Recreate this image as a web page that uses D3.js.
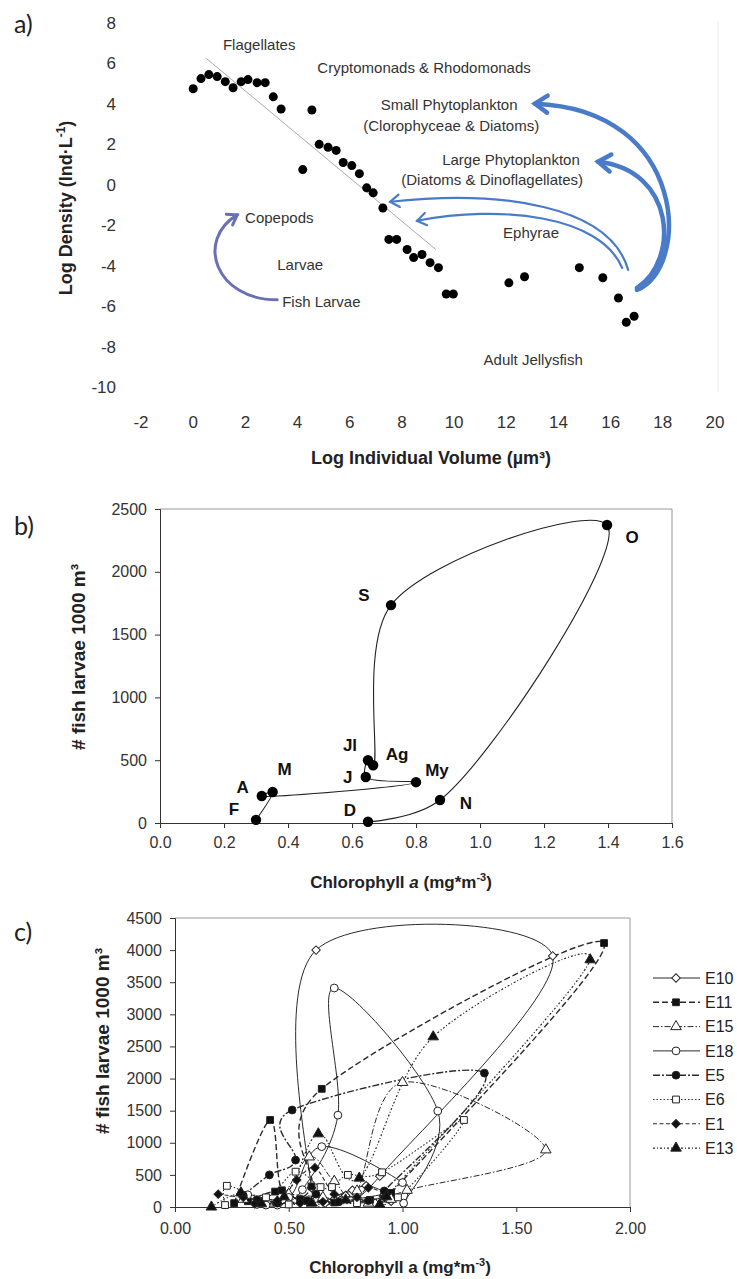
<!DOCTYPE html>
<html><head><meta charset="utf-8">
<script src="https://cdn.jsdelivr.net/npm/d3@7"></script>
<style>body{margin:0;background:#fff}svg{display:block}text{font-family:"Liberation Sans",Arial,sans-serif}</style>
</head><body><svg id="fig" width="737" height="1279"></svg>
<script>
// ================= DATA =================
// Panel a: size spectrum
const logVolume = [0.0,0.3,0.6,0.92,1.23,1.53,1.84,2.1,2.45,2.76,3.07,3.37,4.55,4.2,4.83,5.17,5.48,5.75,6.08,6.37,6.65,6.9,7.27,7.5,7.8,8.2,8.45,8.77,9.08,9.4,9.7,9.97,12.1,12.7,14.8,15.7,16.3,16.6,16.9];
const logDensity = [4.75,5.25,5.45,5.35,5.1,4.8,5.1,5.2,5.05,5.05,4.35,3.75,3.7,0.75,2.0,1.85,1.7,1.1,0.95,0.55,-0.15,-0.4,-1.15,-2.7,-2.7,-3.2,-3.6,-3.45,-3.85,-4.1,-5.4,-5.4,-4.85,-4.55,-4.1,-4.6,-5.6,-6.8,-6.5];
const xTicksA = [-2,0,2,4,6,8,10,12,14,16,18,20];
const yTicksA = [-10,-8,-6,-4,-2,0,2,4,6,8];
const trendVolume = [0.5, 9.3];
const trendDensity = [6.25, -3.2];
const groupLabels = ["Flagellates","Cryptomonads & Rhodomonads","Small Phytoplankton","(Clorophyceae & Diatoms)","Large Phytoplankton","(Diatoms & Dinoflagellates)","Ephyrae","Adult Jellysfish","Copepods","Larvae","Fish Larvae"];
const groupLabelVol = [2.53,8.85,9.81,9.89,12.18,11.46,12.95,13.03,1.99,4.10,3.41];
const groupLabelDen = [6.93,5.79,3.96,2.92,1.24,0.25,-2.38,-8.66,-1.63,-3.96,-5.79];

// Panel b: monthly cycle
const monthsB = ["F","M","A","My","J","Jl","Ag","S","O","N","D"];
const chlB = [0.30,0.352,0.318,0.80,0.643,0.65,0.666,0.722,1.397,0.875,0.65];
const larvaeB = [25,247,215,325,366,500,460,1735,2373,183,10];
const xTicksB = [0,0.2,0.4,0.6,0.8,1.0,1.2,1.4,1.6];
const yTicksB = [0,500,1000,1500,2000,2500];

// Panel c: stations
const stationsC = ["E10","E11","E15","E18","E5","E6","E1","E13"];
const chlE10 = [0.88,0.75,0.60,0.62,1.66,0.90,0.78,0.70,0.95,0.84,0.66,0.92];
const larE10 = [60,180,300,4000,3910,480,260,120,90,330,60,200];
const chlE11 = [0.26,0.418,0.47,0.60,0.645,1.886,0.95,0.857,0.70,0.55,0.44,0.32];
const larE11 = [60,1355,260,320,1840,4110,220,110,70,120,240,90];
const chlE15 = [0.30,0.45,0.59,0.70,0.80,1.0,1.63,1.02,0.95,0.85,0.65,0.50];
const larE15 = [120,80,780,400,250,1940,890,260,120,60,150,200];
const chlE18 = [0.40,0.45,0.56,0.716,0.70,1.155,1.005,1.0,0.645,0.50,0.32,0.36];
const larE18 = [30,30,270,1430,3410,1495,60,380,940,150,190,40];
const chlE5 = [0.30,0.415,0.53,0.515,1.36,0.92,0.85,0.72,0.62,0.58,0.45,0.36];
const larE5 = [180,500,730,1510,2085,250,100,80,200,100,60,110];
const chlE6 = [0.22,0.228,0.40,0.53,0.64,0.69,0.76,0.91,1.27,0.98,0.80,0.50];
const larE6 = [30,330,150,550,310,310,500,540,1355,150,60,40];
const chlE1 = [0.19,0.30,0.45,0.535,0.615,0.70,0.80,0.85,0.92,0.65,0.55,0.35];
const larE1 = [200,150,100,420,610,200,150,300,150,80,60,50];
const chlE13 = [0.16,0.29,0.48,0.63,0.81,1.135,1.825,0.93,0.90,0.75,0.60,0.38];
const larE13 = [0,220,160,1140,450,2650,3850,160,40,110,60,50];
const xTicksC = [0,0.5,1.0,1.5,2.0];
const yTicksC = [0,500,1000,1500,2000,2500,3000,3500,4000,4500];

// ================= SETUP =================
const svg = d3.select("#fig");
const INK = "#222";

function panelLabel(txt, x, y){
  svg.append("text").attr("x",x).attr("y",y).text(txt)
    .style("font-family","Lato, 'Open Sans', sans-serif").style("font-size","25px").attr("fill","#222");
}

// ================= PANEL A =================
const xA = d3.scaleLinear().domain([-2,20]).range([141,715]);
const yA = d3.scaleLinear().domain([-10,8]).range([387,23]);
const gA = svg.append("g");
panelLabel("a)", 14, 33);

gA.append("line").attr("x1",718).attr("x2",718).attr("y1",22).attr("y2",392).attr("stroke","#ececec");

gA.selectAll(".xt").data(xTicksA).enter().append("text")
  .attr("x",d=>xA(d)).attr("y",422).attr("dy","0.35em").attr("text-anchor","middle")
  .style("font-size","17px").attr("fill","#333").text(d=>d);
gA.selectAll(".yt").data(yTicksA).enter().append("text")
  .attr("x",116).attr("y",d=>yA(d)).attr("dy","0.35em").attr("text-anchor","end")
  .style("font-size","17px").attr("fill","#333").text(d=>d);

const xtA = gA.append("text").attr("x",431).attr("y",464).attr("text-anchor","middle")
  .style("font-size","18px").style("font-weight","bold").attr("fill",INK);
xtA.text("Log Individual Volume (µm³)");
const ytA = gA.append("text").attr("transform","translate(72,208) rotate(-90)").attr("text-anchor","middle")
  .style("font-size","18px").style("font-weight","bold").attr("fill",INK);
ytA.append("tspan").text("Log Density (Ind·L");
ytA.append("tspan").attr("dy","-7").style("font-size","12px").text("-1");
ytA.append("tspan").attr("dy","7").text(")");

gA.append("line").attr("x1",xA(trendVolume[0])).attr("y1",yA(trendDensity[0]))
  .attr("x2",xA(trendVolume[1])).attr("y2",yA(trendDensity[1]))
  .attr("stroke","#aaa").attr("stroke-width",1);

const blue = "#4a7bc8";
const arrows = [
  {p:[[17.01,-5.20],[19.04,-4.21],[19.04,3.71],[13.10,4.01]], w:4.5, c:blue, h:15},
  {p:[[17.01,-5.10],[18.66,-3.71],[18.47,0.74],[15.52,1.14]], w:4.5, c:blue, h:15},
  {p:[[16.67,-4.21],[15.98,-0.99],[11.76,-0.25],[7.55,-0.84]], w:2.2, c:blue, h:11},
  {p:[[16.44,-4.11],[15.59,-1.49],[11.76,-0.99],[8.58,-1.78]], w:2.2, c:blue, h:11},
  {p:[[3.22,-5.69],[0.84,-5.69],[0.08,-2.72],[1.69,-1.49]], w:3, c:"#6a70b4", h:11}
];
arrows.forEach(a=>{
  const P = a.p.map(d=>[xA(d[0]),yA(d[1])]);
  const path = d3.path();
  path.moveTo(P[0][0],P[0][1]);
  path.bezierCurveTo(P[1][0],P[1][1],P[2][0],P[2][1],P[3][0],P[3][1]);
  gA.append("path").attr("d",path.toString()).attr("fill","none").attr("stroke",a.c)
    .attr("stroke-width",a.w).attr("stroke-linecap","round");
  const ang = Math.atan2(P[3][1]-P[2][1], P[3][0]-P[2][0]);
  const t = P[3];
  const s = 0.6;
  const p1 = [t[0]-a.h*Math.cos(ang-s), t[1]-a.h*Math.sin(ang-s)];
  const p2 = [t[0]-a.h*Math.cos(ang+s), t[1]-a.h*Math.sin(ang+s)];
  gA.append("path").attr("d",`M${p1}L${t}L${p2}`).attr("fill","none").attr("stroke",a.c)
    .attr("stroke-width",a.w).attr("stroke-linejoin","miter").attr("stroke-linecap","round");
});

groupLabels.forEach((t,i)=>{
  const start = (t==="Copepods"||t==="Fish Larvae");
  gA.append("text").attr("x",xA(groupLabelVol[i])).attr("y",yA(groupLabelDen[i])).attr("dy","0.35em")
    .attr("text-anchor",start?"start":"middle").style("font-size","15px").attr("fill","#333").text(t);
});

gA.selectAll(".pa").data(logVolume).enter().append("circle")
  .attr("cx",d=>xA(d)).attr("cy",(d,i)=>yA(logDensity[i])).attr("r",4.5).attr("fill","#000");

// ================= PANEL B =================
const xB = d3.scaleLinear().domain([0,1.6]).range([160,672]);
const yB = d3.scaleLinear().domain([0,2500]).range([823,509]);
const gB = svg.append("g");
panelLabel("b)", 14, 535);

gB.append("path").attr("d",`M${xB(0)},${yB(2500)}H${xB(1.6)}V${yB(0)}`).attr("fill","none").attr("stroke","#999");
const axLB = gB.append("g").attr("transform",`translate(${xB(0)},0)`)
  .call(d3.axisLeft(yB).tickValues(yTicksB).tickSize(5).tickPadding(8).tickFormat(d3.format("d")));
const axBB = gB.append("g").attr("transform",`translate(0,${yB(0)})`)
  .call(d3.axisBottom(xB).tickValues(xTicksB).tickSize(5).tickPadding(9).tickFormat(d3.format(".1f")));
[axLB,axBB].forEach(ax=>{
  ax.selectAll("text").style("font-size","16px").style("font-family","'Liberation Sans',Arial,sans-serif").attr("fill","#333");
  ax.selectAll("line,path").attr("stroke","#333");
});

const ltB = gB.append("text").attr("x",401).attr("y",888).attr("text-anchor","middle")
  .style("font-size","17px").style("font-weight","bold").attr("fill",INK);
ltB.append("tspan").text("Chlorophyll ");
ltB.append("tspan").style("font-style","italic").text("a");
ltB.append("tspan").text(" (mg*m");
ltB.append("tspan").attr("dy","-7").style("font-size","11px").text("-3");
ltB.append("tspan").attr("dy","7").text(")");
gB.append("text").attr("transform","translate(85,657) rotate(-90)").attr("text-anchor","middle")
  .style("font-size","19px").style("font-weight","bold").attr("fill",INK).text("# fish larvae 1000 m³");

const lineB = d3.line().x(d=>xB(chlB[d])).y(d=>yB(larvaeB[d])).curve(d3.curveCatmullRom.alpha(0.5));
gB.append("path").attr("d",lineB(d3.range(monthsB.length))).attr("fill","none").attr("stroke","#222").attr("stroke-width",1.1);
gB.selectAll(".pb").data(monthsB).enter().append("circle")
  .attr("cx",(d,i)=>xB(chlB[i])).attr("cy",(d,i)=>yB(larvaeB[i])).attr("r",5.2).attr("fill","#000");
const labOffB = {F:[-22,-11],M:[12,-23],A:[-19,-9],My:[21,-12],J:[-18,0],Jl:[-18,-15],Ag:[24,-11],S:[-27,-10],O:[25,12],N:[26,3],D:[-18,-12]};
gB.selectAll(".lb").data(monthsB).enter().append("text")
  .attr("x",(d,i)=>xB(chlB[i])+labOffB[d][0]).attr("y",(d,i)=>yB(larvaeB[i])+labOffB[d][1]).attr("dy","0.35em")
  .attr("text-anchor","middle").style("font-size","17px").style("font-weight","bold").attr("fill","#111").text(d=>d);

// ================= PANEL C =================
const xC = d3.scaleLinear().domain([0,2]).range([175,630]);
const yC = d3.scaleLinear().domain([0,4500]).range([1207,918]);
const gC = svg.append("g");
panelLabel("c)", 14, 941);

gC.append("path").attr("d",`M${xC(0)},${yC(4500)}H${xC(2)}V${yC(0)}`).attr("fill","none").attr("stroke","#999");
const axLC = gC.append("g").attr("transform",`translate(${xC(0)},0)`)
  .call(d3.axisLeft(yC).tickValues(yTicksC).tickSize(5).tickPadding(8).tickFormat(d3.format("d")));
const axBC = gC.append("g").attr("transform",`translate(0,${yC(0)})`)
  .call(d3.axisBottom(xC).tickValues(xTicksC).tickSize(5).tickPadding(11).tickFormat(d3.format(".2f")));
[axLC,axBC].forEach(ax=>{
  ax.selectAll("text").style("font-size","16px").style("font-family","'Liberation Sans',Arial,sans-serif").attr("fill","#333");
  ax.selectAll("line,path").attr("stroke","#333");
});
const ltC = gC.append("text").attr("x",400).attr("y",1273).attr("text-anchor","middle")
  .style("font-size","17px").style("font-weight","bold").attr("fill",INK);
ltC.append("tspan").text("Chlorophyll a (mg*m");
ltC.append("tspan").attr("dy","-7").style("font-size","11px").text("-3");
ltC.append("tspan").attr("dy","7").text(")");
gC.append("text").attr("transform","translate(109,1041) rotate(-90)").attr("text-anchor","middle")
  .style("font-size","19px").style("font-weight","bold").attr("fill",INK).text("# fish larvae 1000 m³");

const dataC = {E10:[chlE10,larE10],E11:[chlE11,larE11],E15:[chlE15,larE15],E18:[chlE18,larE18],E5:[chlE5,larE5],E6:[chlE6,larE6],E1:[chlE1,larE1],E13:[chlE13,larE13]};
const styleC = {
  E10:{dash:null, m:"diamond", fill:false, w:1},
  E11:{dash:"6,3", m:"square", fill:true, w:1.4},
  E15:{dash:"6,2,1.5,2", m:"triangle", fill:false, w:1},
  E18:{dash:null, m:"circle", fill:false, w:1},
  E5:{dash:"7,2,2,2", m:"circle", fill:true, w:1.4},
  E6:{dash:"1.5,2", m:"square", fill:false, w:1.1},
  E1:{dash:"4,2.5", m:"diamond", fill:true, w:1.1},
  E13:{dash:"2,2,1,2", m:"triangle", fill:true, w:1.2}
};
const symType = {diamond:d3.symbolSquare, square:d3.symbolSquare, triangle:d3.symbolTriangle, circle:d3.symbolCircle};
const symSize = {diamond:36, square:46, triangle:48, circle:48};
function drawMarker(g, st, x, y){
  g.append("path").attr("d",d3.symbol(symType[st.m],symSize[st.m])())
    .attr("transform",`translate(${x},${y})${st.m==="diamond"?" rotate(45)":""}`)
    .attr("fill",st.fill?"#111":"#fff").attr("stroke","#222").attr("stroke-width",1);
}
gC.append("clipPath").attr("id","clipc").append("rect")
  .attr("x",xC(0)).attr("y",yC(4500)).attr("width",xC(2)-xC(0)).attr("height",yC(0)-yC(4500));
const lineLayer = gC.append("g").attr("clip-path","url(#clipc)");
stationsC.forEach(s=>{
  const [cx,cy] = dataC[s]; const st = styleC[s];
  const ln = d3.line().x(i=>xC(cx[i])).y(i=>yC(cy[i])).curve(d3.curveCardinal.tension(0));
  lineLayer.append("path").attr("d",ln(d3.range(cx.length))).attr("fill","none")
    .attr("stroke","#2a2a2a").attr("stroke-width",st.w).attr("stroke-dasharray",st.dash);
});
stationsC.forEach(s=>{
  const [cx,cy] = dataC[s]; const st = styleC[s];
  cx.forEach((v,i)=>drawMarker(gC, st, xC(v), yC(cy[i])));
});
stationsC.forEach((s,i)=>{
  const st = styleC[s]; const y = 978 + i*24.3;
  gC.append("line").attr("x1",653).attr("x2",700).attr("y1",y).attr("y2",y)
    .attr("stroke","#2a2a2a").attr("stroke-width",st.w).attr("stroke-dasharray",st.dash);
  drawMarker(gC, st, 676, y);
  gC.append("text").attr("x",705).attr("y",y).attr("dy","0.36em").style("font-size","16px").attr("fill","#222").text(s);
});
</script></body></html>
